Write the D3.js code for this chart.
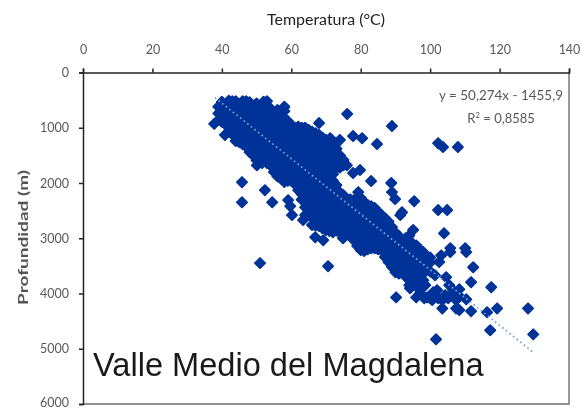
<!DOCTYPE html>
<html>
<head>
<meta charset="utf-8">
<script src="https://cdn.jsdelivr.net/npm/d3@7"></script>
<style>
  html, body { margin: 0; padding: 0; background: #fff; }
  svg { display: block; filter: blur(0.5px); }
  .tick text { font-family: Lato, sans-serif; font-size: 12.5px; fill: #595959; }
</style>
</head>
<body>
<div class="chart"></div>
<script>
var xTicks = [0, 20, 40, 60, 80, 100, 120, 140];
var yTicks = [0, 1000, 2000, 3000, 4000, 5000, 6000];

var tempMasa = [39, 40, 42, 44, 46, 48, 50, 52, 54, 56, 58, 60, 62, 64, 66, 68, 70, 72, 74, 76,
  78, 80, 82, 84, 86, 88, 90, 92, 94, 96, 98, 100];
var profMasa = [
  [620, 740, 860],
  [530, 650, 770, 890],
  [510, 590, 710, 830, 950, 1070],
  [520, 640, 760, 880, 1000, 1120, 1240],
  [520, 580, 700, 820, 940, 1060, 1180, 1300],
  [540, 640, 760, 880, 1000, 1120, 1240, 1360, 1440],
  [560, 700, 820, 940, 1060, 1180, 1300, 1420, 1540, 1590],
  [530, 640, 760, 880, 1000, 1120, 1240, 1360, 1480, 1600],
  [650, 700, 820, 940, 1060, 1180, 1300, 1420, 1540, 1680],
  [680, 760, 880, 1000, 1120, 1240, 1360, 1480, 1600, 1720, 1880],
  [620, 700, 820, 940, 1060, 1180, 1300, 1420, 1540, 1660, 1780, 1900, 1980],
  [950, 1000, 1120, 1240, 1360, 1480, 1600, 1720, 1840, 1960],
  [980, 1060, 1180, 1300, 1420, 1540, 1660, 1780, 1900, 2020, 2130],
  [1000, 1120, 1240, 1360, 1480, 1600, 1720, 1840, 1960, 2080, 2200, 2320, 2440, 2580],
  [1070, 1180, 1300, 1420, 1540, 1660, 1780, 1900, 2020, 2140, 2260, 2380, 2500, 2620, 2760],
  [1130, 1240, 1360, 1480, 1600, 1720, 1840, 1960, 2080, 2200, 2320, 2440, 2560, 2680, 2780],
  [1220, 1300, 1420, 1540, 1660, 1780, 1900, 2020, 2140, 2260, 2380, 2500, 2620, 2740, 2850],
  [1250, 1360, 1480, 1600, 1720, 1840, 1960, 2080, 2200, 2320, 2440, 2560, 2680, 2800, 2890],
  [1500, 1620, 1720, 2170, 2300, 2420, 2540, 2660, 2780, 2900],
  [1680, 2290, 2410, 2530, 2650, 2770, 2880],
  [2310, 2440, 2560, 2680, 2800, 2920, 3035],
  [2270, 2380, 2500, 2620, 2740, 2860, 2980, 3100, 3215],
  [2400, 2520, 2640, 2760, 2880, 3000, 3120, 3200],
  [2450, 2580, 2700, 2820, 2940, 3060, 3180],
  [2580, 2640, 2760, 2880, 3000, 3120, 3220],
  [2700, 2820, 2940, 3060, 3180, 3300, 3430],
  [2900, 3000, 3120, 3240, 3360, 3480, 3615],
  [3035, 3180, 3300, 3420, 3580],
  [2950, 3060, 3200, 3320, 3440, 3560, 3700, 3850],
  [3130, 3260, 3380, 3500, 3620, 3760, 3850],
  [3250, 3380, 3500, 3640, 3760],
  [3350, 3440, 3600]
];

// columnas intermedias para cerrar la nube donde es mas espesa
var tempRelleno = [41, 43, 45, 47, 49, 51, 53, 55, 57, 59, 61, 63, 65, 67, 69, 71, 73, 75, 77, 79,
  81, 83, 85, 87, 89, 91, 93, 95, 97];
var profRelleno = [
  [580, 700, 820, 940],
  [520, 640, 760, 880, 1000, 1120],
  [580, 700, 820, 940, 1060, 1180, 1260],
  [520, 640, 760, 880, 1000, 1120, 1240, 1340],
  [600, 700, 820, 940, 1060, 1180, 1300, 1420, 1500],
  [640, 760, 880, 1000, 1120, 1240, 1360, 1480, 1590],
  [520, 700, 820, 940, 1060, 1180, 1300, 1420, 1540, 1640],
  [760, 880, 1000, 1120, 1240, 1360, 1480, 1600, 1720, 1800],
  [700, 820, 940, 1060, 1180, 1300, 1420, 1540, 1660, 1780, 1920],
  [880, 1000, 1120, 1240, 1360, 1480, 1600, 1720, 1840, 1960],
  [1000, 1060, 1180, 1300, 1420, 1540, 1660, 1780, 1900, 2020],
  [1000, 1120, 1240, 1360, 1480, 1600, 1720, 1840, 1960, 2080, 2200, 2300],
  [1040, 1180, 1300, 1420, 1540, 1660, 1780, 1900, 2020, 2140, 2260, 2380, 2500],
  [1100, 1240, 1360, 1480, 1600, 1720, 1840, 1960, 2080, 2200, 2320, 2440, 2560, 2680, 2770],
  [1180, 1300, 1420, 1540, 1660, 1780, 1900, 2020, 2140, 2260, 2380, 2500, 2620, 2740, 2820],
  [1240, 1360, 1480, 1600, 1720, 1840, 1960, 2080, 2200, 2320, 2440, 2560, 2680, 2800, 2870],
  [1380, 1500, 1620, 1720, 2040, 2140, 2260, 2380, 2500, 2620, 2740, 2860],
  [1580, 1680, 2220, 2340, 2460, 2580, 2700, 2820, 2900],
  [2300, 2380, 2500, 2620, 2740, 2860, 2960],
  [2300, 2440, 2560, 2680, 2800, 2920, 3040, 3140],
  [2340, 2440, 2560, 2680, 2800, 2920, 3040, 3160, 3230],
  [2420, 2580, 2700, 2820, 2940, 3060, 3180],
  [2520, 2640, 2760, 2880, 3000, 3120, 3200],
  [2640, 2760, 2880, 3000, 3120, 3240, 3340],
  [2800, 2880, 3000, 3120, 3240, 3360, 3520],
  [2960, 3060, 3180, 3300, 3420, 3540, 3640],
  [3000, 3120, 3240, 3360, 3480, 3620, 3700],
  [3100, 3200, 3320, 3440, 3560, 3700, 3840],
  [3200, 3320, 3440, 3560, 3700, 3820]
];

// puntos sueltos alrededor de la nube
var tempSueltos = [37.8, 40.9, 50.1, 51.6, 45.8, 52.4, 45.8, 54.5, 59.1, 59.7, 60.2, 63.4, 66.9, 69.2, 74.9,
  51, 70.6, 90.2, 96, 68, 76.1, 89, 102.3, 103.7, 108, 84.7, 80.4, 77.8, 74, 71.2, 72.6, 74.9, 79.8, 77.8,
  83, 88.8, 89, 89.9, 95.4, 79.3, 102.3, 104.9, 91.4, 91.9, 95.1, 104, 105.8, 105.8, 103.2, 102.6, 110.4,
  110.1, 112.4, 111.8, 117.6, 119.3, 116.4, 117.3, 128.2, 129.7, 101.7, 111.8, 110.4, 108.4, 105.5, 101.4,
  104.6, 102, 100, 103.5, 103.5, 107.5, 107.5, 108.4, 106.3, 98.6, 100.6, 97.1, 98.3, 104.3, 102.3,
  106.6, 108.1, 105.2, 100.9, 99.1, 97.1, 94.2];
var profSueltos = [930, 1130, 1680, 1640, 1985, 2130, 2350, 2350, 2310, 2420, 2580, 2670, 2980, 3035, 3000,
  3450, 3505, 4070, 4070, 915, 750, 970, 1280, 1350, 1350, 1295, 1190, 1150, 1220, 1190, 1440, 1640, 1765, 1820,
  1965, 2000, 2165, 2290, 2330, 2165, 2490, 2490, 2580, 2530, 2850, 2910, 3180, 3250, 3310, 3430, 3250,
  3180, 3525, 3795, 3885, 4270, 4340, 4665, 4270, 4740, 4830, 4320, 4105, 3925, 3850, 3670,
  3705, 3940, 4085, 4120, 4270, 4120, 4270, 4300, 4030, 3850, 4120, 3940, 4085, 4030, 4085,
  3940, 4030, 4085, 3975, 4070, 3995, 3905];

// linea de tendencia: y = 50,274x - 1455,9
var trendTemp = [38, 129.6];
var trendSlope = 50.274;
var trendIntercept = -1455.9;

var svgWidth = 585;
var svgHeight = 409;

var svg = d3.select(".chart")
  .append("svg")
  .attr("width", svgWidth)
  .attr("height", svgHeight);

var xScale = d3.scaleLinear().domain([0, 140]).range([83, 569]);
var yScale = d3.scaleLinear().domain([0, 6000]).range([72.5, 404]);

var puntos = [];
tempMasa.forEach(function(t, i) {
  profMasa[i].forEach(function(p) { puntos.push({ t: t, p: p }); });
});
tempRelleno.forEach(function(t, i) {
  profRelleno[i].forEach(function(p) { puntos.push({ t: t, p: p }); });
});
tempSueltos.forEach(function(t, i) {
  puntos.push({ t: t, p: profSueltos[i] });
});

// marco gris derecho e inferior
svg.append("path")
  .attr("d", `M${xScale(140)},${yScale(0)}V${yScale(6000)}H${xScale(0)}`)
  .attr("fill", "none")
  .attr("stroke", "#6e6e6e")
  .attr("stroke-width", 1.4);

var marker = d3.symbol().type(d3.symbolSquare).size(52);

svg.append("g").selectAll("path")
  .data(puntos)
  .enter()
  .append("path")
  .attr("d", marker)
  .attr("transform", d => `translate(${xScale(d.t)},${yScale(d.p)}) rotate(45)`)
  .attr("fill", "#003399")
  .attr("stroke", "#003399")
  .attr("stroke-width", 1.8)
  .attr("stroke-linejoin", "round");

var line = d3.line()
  .x(d => xScale(d))
  .y(d => yScale(trendSlope * d + trendIntercept));

svg.append("path")
  .datum(trendTemp)
  .attr("d", line)
  .attr("fill", "none")
  .attr("stroke", "#6fa3dc")
  .attr("stroke-width", 1.8)
  .attr("stroke-dasharray", "1.6 3");

var topAxis = d3.axisTop(xScale).tickValues(xTicks).tickFormat(d3.format("d")).tickSize(4).tickPadding(15);
var leftAxis = d3.axisLeft(yScale).tickValues(yTicks).tickFormat(d3.format("d")).tickSize(4).tickPadding(10);

var xAxis = svg.append("g").attr("transform", `translate(0, ${yScale(0)})`).call(topAxis);
var yAxis = svg.append("g").attr("transform", `translate(${xScale(0)}, 0)`).call(leftAxis);

xAxis.selectAll("path, line").attr("stroke", "#222").attr("stroke-width", 1.5);
yAxis.selectAll("path, line").attr("stroke", "#222").attr("stroke-width", 1.5);
yAxis.selectAll("text").filter(d => d === 6000).attr("dy", "0.2em");

svg.append("text")
  .attr("x", 326)
  .attr("y", 25)
  .attr("text-anchor", "middle")
  .attr("textLength", 118)
  .attr("lengthAdjust", "spacingAndGlyphs")
  .attr("font-family", "Lato, sans-serif")
  .attr("font-size", "14.5px")
  .attr("fill", "#222")
  .text("Temperatura (°C)");

svg.append("text")
  .attr("transform", "translate(28, 237.5) rotate(-90)")
  .attr("text-anchor", "middle")
  .attr("textLength", 135)
  .attr("lengthAdjust", "spacingAndGlyphs")
  .attr("font-family", "Lato, sans-serif")
  .attr("font-size", "14px")
  .attr("font-weight", "bold")
  .attr("fill", "#555")
  .text("Profundidad (m)");

svg.append("text")
  .attr("x", 501)
  .attr("y", 100)
  .attr("text-anchor", "middle")
  .attr("textLength", 124)
  .attr("lengthAdjust", "spacingAndGlyphs")
  .attr("font-family", "Lato, sans-serif")
  .attr("font-size", "13px")
  .attr("fill", "#595959")
  .text("y = 50,274x - 1455,9");

var r2 = svg.append("text")
  .attr("x", 501)
  .attr("y", 123)
  .attr("text-anchor", "middle")
  .attr("font-family", "Lato, sans-serif")
  .attr("font-size", "13px")
  .attr("fill", "#595959");
r2.append("tspan").text("R");
r2.append("tspan").attr("dy", -5).attr("font-size", "8px").text("2");
r2.append("tspan").attr("dy", 5).text(" = 0,8585");

svg.append("text")
  .attr("x", 93)
  .attr("y", 376)
  .attr("font-family", "'Liberation Sans', sans-serif")
  .attr("font-size", "32.6px")
  .attr("fill", "#1a1a1a")
  .text("Valle Medio del Magdalena");
</script>
</body>
</html>
